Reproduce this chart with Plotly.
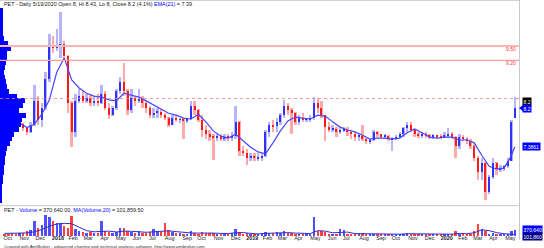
import numpy as np
import pandas as pd
import plotly.graph_objects as go

# ---------------- data (weekly samples) ----------------
week_dates = pd.date_range("2017-10-04", periods=137, freq="7D")
dates = list(week_dates.strftime("%Y-%m-%d")) + ["2020-05-19"]

open_ = [8.10, 8.02, 8.00, 7.95, 7.85, 7.86, 7.78, 7.70, 7.85, 8.35,
         7.95, 8.20, 8.80, 9.50, 9.45, 9.50, 9.55, 9.30, 8.30, 7.70,
         8.35, 8.45, 8.35, 8.40, 8.30, 8.35, 8.30, 8.50, 8.20, 8.05,
         8.20, 8.55, 8.75, 8.55, 8.15, 8.40, 8.35, 8.38, 8.30, 8.20,
         8.05, 8.10, 8.12, 8.05, 8.00, 7.85, 8.00, 7.95, 7.96, 7.93,
         7.97, 8.25, 8.15, 7.95, 7.75, 7.65, 7.60, 7.58, 7.62, 7.55,
         7.60, 7.58, 7.62, 7.90, 7.30, 7.25, 7.15, 7.20, 7.15, 7.16,
         7.20, 7.70, 7.85, 7.82, 7.90, 8.05, 8.25, 8.15, 8.10, 7.90,
         8.00, 7.95, 7.96, 8.00, 8.30, 8.20, 8.05, 7.80, 7.75, 7.76,
         7.70, 7.72, 7.75, 7.70, 7.65, 7.60, 7.62, 7.55, 7.50, 7.52,
         7.70, 7.65, 7.60, 7.62, 7.55, 7.56, 7.60, 7.65, 7.78, 7.85,
         7.75, 7.65, 7.63, 7.64, 7.62, 7.60, 7.62, 7.60, 7.58, 7.63,
         7.65, 7.60, 7.40, 7.60, 7.55, 7.50, 7.40, 7.15, 6.85, 7.05,
         6.45, 6.75, 7.05, 6.92, 6.93, 6.98, 7.10, 8.00]
high = [8.18, 8.12, 8.10, 7.98, 7.92, 7.88, 7.80, 7.90, 8.68, 8.45,
        8.30, 8.95, 9.75, 9.70, 9.85, 10.21, 9.60, 9.32, 8.35, 8.50,
        8.60, 8.55, 8.50, 8.50, 8.45, 8.50, 8.68, 8.55, 8.30, 8.25,
        8.60, 8.85, 9.15, 8.60, 8.60, 8.45, 8.60, 8.45, 8.35, 8.25,
        8.20, 8.20, 8.17, 8.10, 8.02, 8.05, 8.05, 8.00, 8.00, 8.00,
        8.35, 8.35, 8.17, 8.05, 7.85, 7.75, 7.65, 7.65, 7.65, 7.65,
        7.65, 7.70, 8.25, 7.92, 7.40, 7.35, 7.25, 7.25, 7.25, 7.25,
        7.75, 7.90, 7.95, 8.00, 8.10, 8.37, 8.30, 8.20, 8.12, 8.05,
        8.10, 8.00, 8.05, 8.43, 8.40, 8.35, 8.06, 7.90, 7.85, 7.80,
        7.80, 7.80, 7.80, 7.75, 7.70, 7.65, 7.85, 7.58, 7.55, 7.75,
        7.72, 7.66, 7.65, 7.63, 7.60, 7.63, 7.70, 7.80, 7.90, 7.90,
        7.76, 7.70, 7.70, 7.70, 7.66, 7.66, 7.63, 7.65, 7.70, 7.78,
        7.70, 7.62, 7.65, 7.63, 7.60, 7.55, 7.45, 7.20, 7.15, 7.06,
        6.80, 7.15, 7.06, 7.00, 7.00, 7.15, 7.95, 8.43]
low = [7.98, 7.95, 7.90, 7.82, 7.80, 7.72, 7.63, 7.68, 7.82, 7.85,
       7.80, 8.15, 8.75, 9.35, 9.40, 9.25, 9.20, 8.10, 7.38, 7.60,
       8.30, 8.30, 8.30, 8.25, 8.25, 8.25, 8.28, 8.15, 7.97, 8.03,
       8.15, 8.50, 8.45, 8.05, 8.10, 8.25, 8.30, 8.20, 8.10, 8.00,
       8.00, 8.00, 8.00, 7.95, 7.80, 7.84, 7.90, 7.88, 7.55, 7.88,
       7.95, 8.05, 7.90, 7.60, 7.55, 7.50, 7.12, 7.50, 7.50, 7.50,
       7.50, 7.50, 7.55, 7.20, 7.20, 7.00, 7.10, 7.10, 7.10, 7.10,
       7.18, 7.60, 7.70, 7.70, 7.85, 8.00, 8.05, 7.65, 7.85, 7.85,
       7.90, 7.90, 7.90, 7.95, 8.10, 8.00, 7.50, 7.70, 7.70, 7.60,
       7.65, 7.70, 7.62, 7.55, 7.50, 7.50, 7.50, 7.45, 7.45, 7.50,
       7.60, 7.55, 7.55, 7.50, 7.30, 7.52, 7.58, 7.60, 7.70, 7.70,
       7.60, 7.58, 7.58, 7.58, 7.55, 7.55, 7.55, 7.55, 7.57, 7.58,
       7.55, 7.15, 7.35, 7.50, 7.45, 7.35, 7.10, 6.70, 6.70, 6.27,
       6.40, 6.72, 6.80, 6.85, 6.88, 6.95, 7.08, 8.00]
close = [8.02, 8.00, 7.95, 7.85, 7.86, 7.78, 7.70, 7.85, 8.35, 7.95,
         8.20, 8.80, 9.50, 9.45, 9.50, 9.55, 9.30, 8.30, 7.70, 8.35,
         8.45, 8.35, 8.40, 8.30, 8.35, 8.30, 8.50, 8.20, 8.05, 8.20,
         8.55, 8.75, 8.55, 8.15, 8.40, 8.35, 8.38, 8.30, 8.20, 8.05,
         8.10, 8.12, 8.05, 8.00, 7.85, 8.00, 7.95, 7.96, 7.93, 7.97,
         8.25, 8.15, 7.95, 7.75, 7.65, 7.60, 7.58, 7.62, 7.55, 7.60,
         7.58, 7.62, 7.90, 7.30, 7.25, 7.15, 7.20, 7.15, 7.16, 7.20,
         7.70, 7.85, 7.82, 7.90, 8.05, 8.25, 8.15, 8.10, 7.90, 8.00,
         7.95, 7.96, 8.00, 8.30, 8.20, 8.05, 7.80, 7.75, 7.76, 7.70,
         7.72, 7.75, 7.70, 7.65, 7.60, 7.62, 7.55, 7.50, 7.52, 7.70,
         7.65, 7.60, 7.62, 7.55, 7.56, 7.60, 7.65, 7.78, 7.85, 7.75,
         7.65, 7.63, 7.64, 7.62, 7.60, 7.62, 7.60, 7.58, 7.63, 7.65,
         7.60, 7.40, 7.60, 7.55, 7.50, 7.40, 7.15, 6.85, 7.05, 6.45,
         6.75, 7.05, 6.92, 6.93, 6.98, 7.10, 7.90, 8.20]
volume_k = [150, 120, 180, 130, 200, 160, 300, 370, 930, 500,
            680, 1300, 1200, 930, 800, 800, 620, 500, 1240, 430,
            310, 250, 200, 250, 200, 180, 930, 300, 250, 200,
            250, 500, 500, 300, 250, 200, 300, 200, 200, 250,
            430, 300, 250, 800, 350, 250, 200, 200, 150, 150,
            300, 200, 150, 250, 200, 180, 200, 150, 150, 130,
            150, 200, 430, 250, 150, 180, 130, 120, 120, 100,
            250, 200, 200, 250, 200, 300, 200, 200, 150, 150,
            150, 130, 150, 1170, 300, 300, 250, 150, 150, 120,
            430, 370, 150, 130, 120, 150, 200, 100, 100, 150,
            100, 100, 100, 100, 120, 100, 120, 150, 180, 150,
            120, 100, 100, 100, 100, 100, 100, 100, 150, 120,
            100, 300, 150, 120, 100, 150, 300, 740, 430, 300,
            150, 180, 150, 100, 120, 150, 300, 370.64]

# EMA(21) and MA(Volume,20), read every other week, plus the last day
ema21 = [8.03, 7.99, 7.89, 7.79, 7.86, 8.07, 8.37, 8.95, 9.25, 8.79,
         8.62, 8.51, 8.45, 8.43, 8.37, 8.35, 8.51, 8.47, 8.43, 8.35,
         8.26, 8.18, 8.09, 8.05, 7.99, 7.97, 8.07, 7.91, 7.72, 7.61,
         7.57, 7.65, 7.51, 7.38, 7.28, 7.24, 7.47, 7.72, 7.93, 8.01,
         7.99, 7.97, 8.05, 8.03, 7.91, 7.80, 7.74, 7.70, 7.63, 7.55,
         7.57, 7.57, 7.55, 7.57, 7.68, 7.76, 7.68, 7.59, 7.57, 7.59,
         7.59, 7.53, 7.53, 7.47, 7.21, 6.98, 6.92, 6.94, 7.21, 7.3861]
vol_ma_k = [160, 165, 170, 190, 260, 400, 600, 740, 780, 760,
            540, 330, 260, 300, 300, 250, 300, 290, 250, 230,
            260, 280, 320, 270, 210, 190, 180, 190, 180, 160,
            150, 200, 210, 160, 130, 160, 190, 200, 210, 180,
            150, 150, 330, 300, 200, 230, 240, 150, 140, 120,
            110, 100, 100, 110, 140, 140, 110, 100, 100, 110,
            110, 160, 140, 200, 380, 330, 210, 140, 130, 101.8595]
line_dates = dates[:-1][::2] + [dates[-1]]

# volume-at-price profile (relative units)
profile_price = [10.25, 10.15, 10.05, 9.95, 9.85, 9.75, 9.65, 9.55, 9.45, 9.35,
                 9.25, 9.15, 9.05, 8.95, 8.85, 8.75, 8.65, 8.55, 8.45, 8.35,
                 8.25, 8.15, 8.05, 7.95, 7.85, 7.75, 7.65, 7.55, 7.45, 7.35,
                 7.25, 7.15, 7.05, 6.95, 6.85, 6.75, 6.65, 6.55, 6.45, 6.35, 6.25]
profile_vol = [3, 3, 3, 3, 3, 3, 4, 8, 11, 7,
               7, 6, 5, 4, 5, 6, 7, 9, 17, 25,
               23, 19, 26, 22, 21, 19, 14, 12, 10, 7,
               6, 5, 5, 4, 4, 3, 3, 2, 2, 2, 2]

level_lines = [9.50, 9.20]
dotted_level = 8.40
last_close = 8.20
last_ema = 7.3861
last_vol = 370640
last_vol_ma = 101860

# ---------------- figure ----------------
o = np.array(open_); h = np.array(high); l = np.array(low); c = np.array(close)
up = c >= o
range_col = np.where(up, "#b4b4ff", "#ffaaaa")
body_col = np.where(up, "#3232ff", "#ff1a1a")
vol_col = np.where(up, "#5050ff", "#ff4040")
DAY = 86400000

fig = go.Figure()
fig.add_trace(go.Bar(x=profile_vol, y=profile_price, orientation="h", width=0.1,
                     marker=dict(color="#0000ff", line_width=0), xaxis="x3", yaxis="y"))
fig.add_trace(go.Bar(x=dates, y=h - l, base=l, width=4.5 * DAY,
                     marker=dict(color=range_col, line_width=0), xaxis="x", yaxis="y"))
fig.add_trace(go.Bar(x=dates, y=np.maximum(np.abs(c - o), 0.02), base=np.minimum(o, c),
                     width=2.2 * DAY, marker=dict(color=body_col, line_width=0),
                     xaxis="x", yaxis="y"))
fig.add_trace(go.Scatter(x=line_dates, y=ema21, mode="lines",
                         line=dict(color="#4646ff", width=1.2), xaxis="x", yaxis="y"))
fig.add_trace(go.Bar(x=dates, y=np.array(volume_k) * 1000, width=4.5 * DAY,
                     marker=dict(color=vol_col, line_width=0), xaxis="x2", yaxis="y2"))
fig.add_trace(go.Scatter(x=line_dates, y=np.array(vol_ma_k) * 1000, mode="lines",
                         line=dict(color="#3030c8", width=1), xaxis="x2", yaxis="y2"))

month_starts = pd.date_range("2017-10-01", "2020-05-01", freq="BMS")
tick_text = [f"<b>{d.year}</b>" if d.month == 1 else d.strftime("%b") for d in month_starts]

x_range = ["2017-09-25 10:00", "2020-05-27 00:00"]
FONT = "Liberation Sans, Arial, sans-serif"

fig.update_layout(
    width=544, height=248, margin=dict(l=0, r=25, t=0, b=12),
    paper_bgcolor="white", plot_bgcolor="white", showlegend=False,
    barmode="overlay", bargap=0,
    font=dict(family=FONT, size=5.4, color="#222222"),
    xaxis=dict(domain=[0, 1], range=x_range, type="date", anchor="y", visible=False),
    xaxis2=dict(domain=[0, 1], range=x_range, type="date", anchor="y2", matches="x",
                tickvals=month_starts, ticktext=tick_text, ticks="", showgrid=False,
                zeroline=False, showline=False, ticklabelposition="outside right",
                tickangle=0, ticklabelstandoff=-2,
                tickfont=dict(size=5.4, color="#222222", family=FONT)),
    xaxis3=dict(overlaying="x", range=[0, 519], anchor="y", visible=False),
    yaxis=dict(domain=[0.129, 1], range=[6.156, 10.464], visible=False),
    yaxis2=dict(domain=[0, 0.1229], range=[0, 1.79e6], visible=False),
)

shapes = []
shapes.append(dict(type="line", xref="paper", yref="y", x0=0, x1=1, y0=level_lines[0], y1=level_lines[0],
                   line=dict(color="#ffb6b6", width=2)))
shapes.append(dict(type="line", xref="paper", yref="y", x0=0, x1=1, y0=level_lines[1], y1=level_lines[1],
                   line=dict(color="#ff9c9c", width=1.3)))
shapes.append(dict(type="line", xref="paper", yref="y", x0=0, x1=1, y0=dotted_level, y1=dotted_level,
                   line=dict(color="#ff7a7a", width=0.8, dash="dot")))
shapes.append(dict(type="line", xref="paper", yref="paper", x0=0, x1=1, y0=0.1284, y1=0.1284,
                   line=dict(color="#c8c8c8", width=1)))
shapes.append(dict(type="line", xref="paper", yref="paper", x0=0, x1=1, y0=0.998, y1=0.998,
                   line=dict(color="#d0d0d0", width=1)))
shapes.append(dict(type="line", xref="paper", yref="paper", x0=1.001, x1=1.001, y0=-0.015, y1=1,
                   line=dict(color="#c8c8c8", width=1)))
shapes.append(dict(type="path", xref="paper", yref="y",
                   path=f"M 1.0,{last_close} L 1.0077,{last_close + 0.065} L 1.0077,{last_close - 0.065} Z",
                   fillcolor="#0000ff", line=dict(width=0)))
fig.update_layout(shapes=shapes)

ann = []
ann.append(dict(xref="paper", yref="paper", x=0.004, y=0.981, xanchor="left", yanchor="middle",
                showarrow=False, font=dict(size=5.4, color="#202020"),
                text="PET - Daily 5/19/2020 Open 8, Hi 8.43, Lo 8, Close 8.2 (4.1%) "
                     "<span style='color:#0000ff'>EMA(21)</span> = 7.39"))
ann.append(dict(xref="paper", yref="paper", x=0.004, y=0.1102, xanchor="left", yanchor="middle",
                showarrow=False, font=dict(size=5.4, color="#202020"),
                text="PET - <span style='color:#0000ff'>Volume</span> = 370,640.00, "
                     "<span style='color:#0000ff'>MA(Volume,20)</span> = 101,859.50"))
ann.append(dict(xref="paper", yref="paper", x=0.004, y=-0.043, xanchor="left", yanchor="middle",
                showarrow=False, font=dict(size=4.4, color="#303030"),
                text="Created with AmiBroker - advanced charting and technical analysis software. http://www.amibroker.com"))
for lv in level_lines:
    ann.append(dict(xref="paper", yref="y", x=0.998, y=lv, xanchor="right", yanchor="middle",
                    yshift=-3, showarrow=False, font=dict(size=5, color="#ff3030"),
                    text=f"{lv:.2f}"))
box = dict(xref="paper", x=1.0065, xanchor="left", yanchor="middle", showarrow=False,
           borderpad=0.6, font=dict(size=5, color="white"))
ann.append(dict(box, yref="y", y=last_close, yshift=7, bgcolor="#000000", text=f"{last_close:g}"))
ann.append(dict(box, yref="y", y=last_close, bgcolor="#0000ff", text=f"{last_close:g}"))
ann.append(dict(box, yref="y", y=last_ema, bgcolor="#0000ff", text=f"{last_ema:g}"))
ann.append(dict(box, yref="y2", y=last_vol, bgcolor="#0000ff", text=f"{last_vol:,}"))
ann.append(dict(box, yref="y2", y=last_vol_ma, yshift=-2, bgcolor="#000080", text=f"{last_vol_ma:,}"))
fig.update_layout(annotations=ann)

fig.write_html("out.html")
